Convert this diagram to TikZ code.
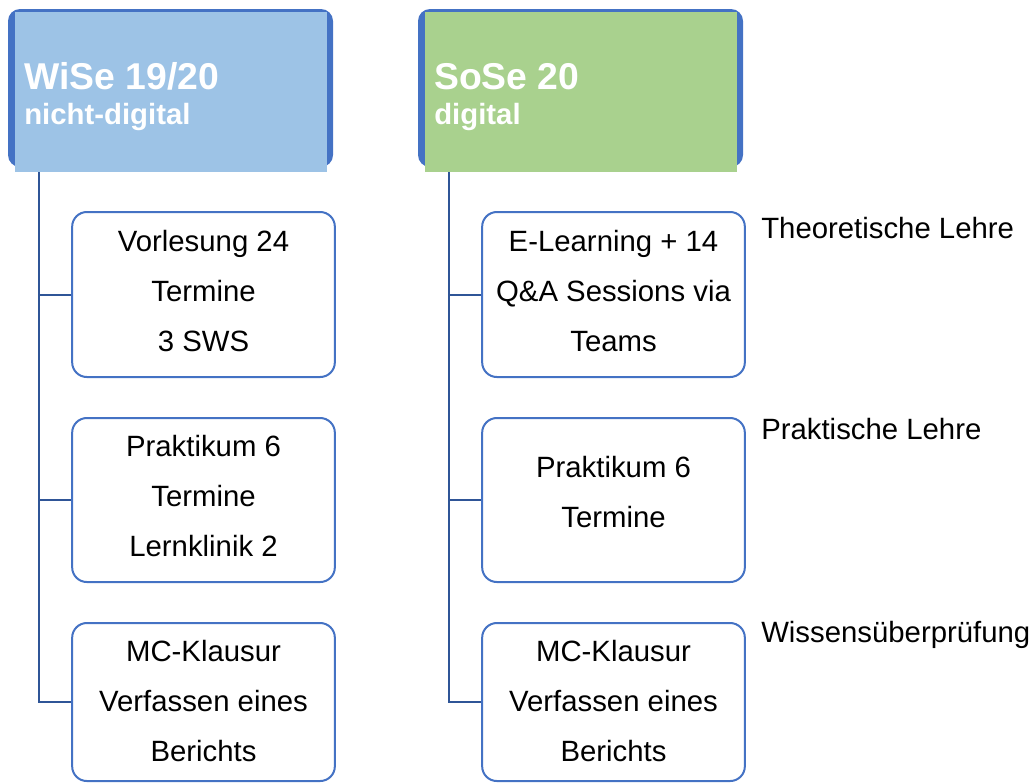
\documentclass[tikz,border=0pt]{standalone}
\usepackage{fontspec}
\setmainfont{Liberation Sans}
\usetikzlibrary{positioning}

\definecolor{rimblue}{RGB}{68,114,196}
\definecolor{lineblue}{RGB}{47,85,151}
\definecolor{wisefill}{RGB}{157,195,230}
\definecolor{sosefill}{RGB}{169,209,142}

% extra depth below the last line, lifts the text a little
\newcommand{\lastpad}[1]{\rule[-#1]{0pt}{0pt}}

\tikzset{
  headrim/.style={rectangle, rounded corners=9pt, fill=rimblue, inner sep=0pt,
    minimum width=243.75pt, minimum height=118.5pt},
  headfill/.style={rectangle, inner sep=0pt, minimum width=234pt, minimum height=120pt},
  headtext/.style={anchor=base west, inner sep=0pt, text=white, font=\bfseries},
  itembox/.style={rectangle, rounded corners=11pt, draw=rimblue, line width=1.5pt, fill=white,
    minimum width=197pt, align=center, inner sep=0pt,
    font=\fontsize{22}{37.5}\selectfont},
  conn/.style={draw=lineblue, line width=1.5pt},
  sidetext/.style={anchor=base west, inner sep=0pt, font=\fontsize{22}{26}\selectfont}
}

\begin{document}
\begin{tikzpicture}[x=0.75pt,y=0.75pt,yscale=-1,xscale=1]
\useasboundingbox (0,0) rectangle (1030,783);

%Header WiSe
\node[headrim] (wiserim) at (170.5,88) {};
\node[headfill, fill=wisefill] (wisehead) at (171,92) {};
\node[headtext, font=\fontsize{28}{30}\bfseries] (wisetitle) at (24,89) {WiSe 19/20};
\node[headtext, font=\fontsize{22}{24}\bfseries] (wisesub) at (24,124) {nicht-digital};

%Header SoSe
\node[headrim] (soserim) at (580.5,88) {};
\node[headfill, fill=sosefill] (sosehead) at (581,92) {};
\node[headtext, font=\fontsize{28}{30}\bfseries] (sosetitle) at (434,89) {SoSe 20};
\node[headtext, font=\fontsize{22}{24}\bfseries] (sosesub) at (434,124) {digital};

%Boxes WiSe
\node[itembox, minimum height=123.75pt] (wv) at (203.5,294.5) {Vorlesung 24\\Termine\\3 SWS\lastpad{6pt}};
\node[itembox, minimum height=123pt] (wp) at (203.5,500) {Praktikum 6\\Termine\\Lernklinik 2\lastpad{6pt}};
\node[itembox, minimum height=118.5pt] (wk) at (203.5,702) {MC-Klausur\\Verfassen eines\\Berichts\lastpad{2pt}};

%Boxes SoSe
\node[itembox, minimum height=123.75pt] (sv) at (613.5,294.5) {E-Learning + 14\\Q\&A Sessions via\\Teams\lastpad{6pt}};
\node[itembox, minimum height=123pt] (sp) at (613.5,500) {Praktikum 6\\Termine\lastpad{12pt}};
\node[itembox, minimum height=118.5pt] (sk) at (613.5,702) {MC-Klausur\\Verfassen eines\\Berichts\lastpad{2pt}};

%Connectors
\coordinate (wtrunk) at (39,172);
\coordinate (strunk) at (449,172);
\draw[conn] (wtrunk) |- (wv.west);
\draw[conn] (wtrunk) |- (wp.west);
\draw[conn] (wtrunk) |- (wk.west);
\draw[conn] (strunk) |- (sv.west);
\draw[conn] (strunk) |- (sp.west);
\draw[conn] (strunk) |- (sk.west);

% Text Node
\node[sidetext] (theo) at (761,238) {Theoretische Lehre};
% Text Node
\node[sidetext] (prak) at (761,439) {Praktische Lehre};
% Text Node
\node[sidetext] (wiss) at (761,642) {Wissensüberprüfung};

\end{tikzpicture}
\end{document}
